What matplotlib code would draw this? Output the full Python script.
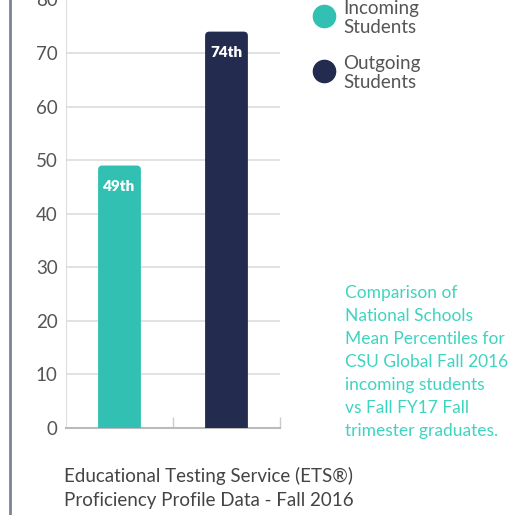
import matplotlib.pyplot as plt
import matplotlib.lines as mlines
import matplotlib.patches as mpatches

groups = ['Incoming\nStudents', 'Outgoing\nStudents']
percentiles = [49, 74]
bar_labels = ['49th', '74th']
colors = ['#31c0b2', '#232b4f']
yticks = [0, 10, 20, 30, 40, 50, 60, 70, 80]

note = ('Comparison of\nNational Schools\nMean Percentiles for\nCSU Global Fall 2016\n'
        'incoming students\nvs Fall FY17 Fall\ntrimester graduates.')
source = 'Educational Testing Service (ETS®)\nProficiency Profile Data - Fall 2016'

plt.rcParams['font.family'] = ['Lato', 'DejaVu Sans']

fig = plt.figure(figsize=(5.1, 5.15), dpi=100)
ax = fig.add_axes([0.1294, 0.169, 0.4196, 0.832])

x = [0, 1]
bars = ax.bar(x, percentiles, width=0.4, color=colors, zorder=3)
# rounded tops: swap each bar for a rounded box of the same geometry
for b in bars:
    b.set_visible(False)
    rb = mpatches.FancyBboxPatch((b.get_x(), -3), b.get_width(), b.get_height() + 3,
                                 boxstyle='round,pad=0,rounding_size=0.04',
                                 mutation_aspect=20, fc=b.get_facecolor(), ec='none',
                                 zorder=3, clip_on=True)
    ax.add_patch(rb)
for b, lab in zip(bars, bar_labels):
    ax.annotate(lab, (b.get_x() + b.get_width() / 2, b.get_height()),
                xytext=(0, -15), textcoords='offset points', ha='center', va='center',
                color='white', fontsize=11, fontweight='heavy', zorder=4)

ax.set_xlim(-0.5, 1.5)
ax.set_ylim(0, 80)
ax.set_yticks(yticks)
ax.grid(axis='y', color='#dddddd', lw=1.2, zorder=0)
ax.tick_params(axis='y', length=0, labelsize=13.5, labelcolor='#555555', pad=6)
ax.set_xticks([0.5, 1.5])
ax.set_xticklabels([])
ax.tick_params(axis='x', direction='in', length=8, color='#cccccc', width=1)
for s in ['top', 'right']:
    ax.spines[s].set_visible(False)
ax.spines['left'].set_color('#dddddd')
ax.spines['bottom'].set_color('#bbbbbb')
ax.spines['bottom'].set_linewidth(1.5)

# legend
for i, (g, c) in enumerate(zip(groups, colors)):
    yy = 1 - (16 + 55 * i) / 515
    fig.add_artist(mlines.Line2D([324 / 510], [yy], marker='o', markersize=16,
                                 color=c, transform=fig.transFigure))
    fig.text(343 / 510, yy - 2 / 515, g, ha='left', va='center', fontsize=13.5,
             color='#555555', linespacing=1.1)

fig.text(345 / 510, 1 - 362 / 515, note, ha='left', va='center', fontsize=12.5,
         color='#3fd4c0', linespacing=1.55)
fig.text(64 / 510, 1 - 488 / 515, source, ha='left', va='center', fontsize=13.5,
         color='#444444', linespacing=1.45)

fig.add_artist(mlines.Line2D([10 / 510, 10 / 510], [0, 1], color='#7a8494', lw=2,
                             transform=fig.transFigure))

fig.savefig('out.png', dpi=100)
